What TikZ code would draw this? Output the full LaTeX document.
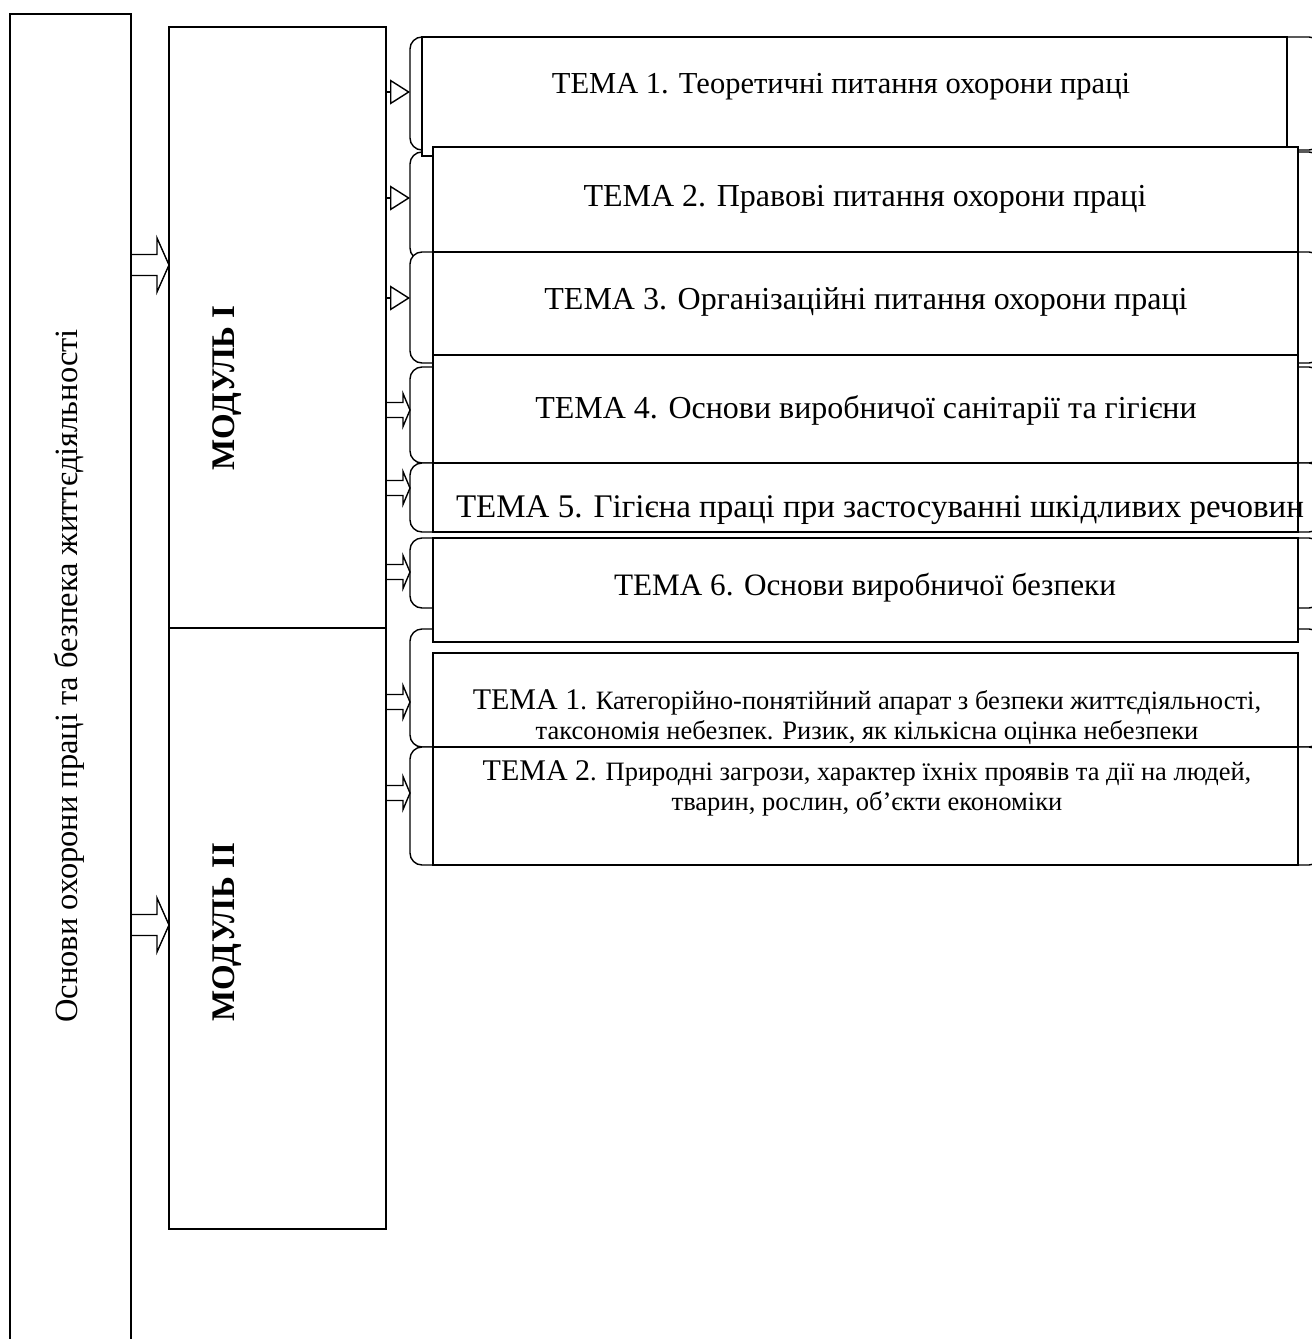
\documentclass[tikz,border=0pt]{standalone}
\usepackage{fontspec}
\setmainfont{Liberation Serif}
\usetikzlibrary{arrows.meta,calc}
\newcommand\BlockArr[3]{%
  \coordinate (ba) at (0,#3);
  \draw[ln] ($(#1.east|-ba)+(0,-10.5)$) -- ($(#2.west|-ba)+(-12,-10.5)$) -- ($(#2.west|-ba)+(-12,-27)$) -- (#2.west|-ba) -- ($(#2.west|-ba)+(-12,27)$) -- ($(#2.west|-ba)+(-12,10.5)$) -- ($(#1.east|-ba)+(0,10.5)$);}
\newcommand\DblArr[3]{%
  \coordinate (da) at (0,#3);
  \draw[ln] ($(#1.east|-da)+(0,-7.5)$) -- ($(#2.west|-da)+(-7,-7.5)$) -- ($(#2.west|-da)+(-7,-16.5)$) -- (#2.west|-da) -- ($(#2.west|-da)+(-7,16.5)$) -- ($(#2.west|-da)+(-7,7.5)$) -- ($(#1.east|-da)+(0,7.5)$);}
\newcommand\TriArr[3]{%
  \coordinate (ta) at (0,#3);
  \draw[ln,-{Triangle[open,length=20pt,width=25pt]}] (#1.east|-ta) -- (#2.west|-ta);}
\begin{document}
\begin{tikzpicture}[x=1pt,y=-1pt,
  every node/.style={inner sep=0pt,outer sep=0pt},
  ln/.style={line width=1.4pt},
  bigbox/.style={ln,draw,anchor=north west},
  rbox/.style={ln,draw,fill=white,rounded corners=12pt,anchor=north west,minimum width=911pt},
  sbox/.style={ln,draw,fill=white,anchor=north west,minimum width=865pt},
  tema/.style={font=\fontsize{#1}{36}\selectfont},
  small/.style={align=center,font=\fontsize{26.5}{30}\selectfont}]
\useasboundingbox (0,0) rectangle (1312,1339);
\clip (0,0) rectangle (1312,1339);
% main column and modules
\node[bigbox,minimum width=121pt,minimum height=1400pt] (main) at (10,14) {};
\node[bigbox,minimum width=217pt,minimum height=601pt] (m1) at (169,27) {};
\node[bigbox,minimum width=217pt,minimum height=601pt] (m2) at (169,628) {};
\node[rotate=90,font=\fontsize{32.5}{36}\selectfont] (maintxt) at (69,676) {Основи охорони праці та безпека життєдіяльності};
\node[rotate=90,font=\bfseries\fontsize{33}{36}\selectfont] (m1txt) at (227,388) {МОДУЛЬ I};
\node[rotate=90,font=\bfseries\fontsize{33}{36}\selectfont] (m2txt) at (227,932) {МОДУЛЬ II};
% rounded backing boxes
\node[rbox,minimum height=113pt] (r1) at (410,37) {};
\node[rbox,minimum height=108pt] (r2) at (410,152) {};
\node[rbox,minimum height=111pt] (r3) at (410,252) {};
\node[rbox,minimum height=96pt] (r4) at (410,367) {};
\node[rbox,minimum height=69pt] (r5) at (410,463) {};
\node[rbox,minimum height=70pt] (r6) at (410,538) {};
\node[rbox,minimum height=118pt] (r7) at (410,629) {};
\node[rbox,minimum height=118pt] (r8) at (410,747) {};
% theme boxes
\node[sbox,minimum height=119pt] (s1) at (422,37) {};
\node[sbox,minimum height=105pt] (s2) at (433,147) {};
\node[sbox,minimum height=103pt] (s3) at (433,252) {};
\node[sbox,minimum height=108pt] (s4) at (433,355) {};
\node[sbox,minimum height=69pt] (s5) at (433,463) {};
\node[sbox,minimum height=104pt] (s6) at (433,538) {};
\node[sbox,minimum height=94pt] (s7) at (433,653) {};
\node[sbox,minimum height=118pt] (s8) at (433,747) {};
% texts
\node[tema=30.5] (t1) at (841,87) {ТЕМА 1. Теоретичні питання охорони праці};
\node[tema=32] (t2) at (865,199) {ТЕМА 2. Правові питання охорони праці};
\node[tema=32] (t3) at (866,302) {ТЕМА 3. Організаційні питання охорони праці};
\node[tema=32] (t4) at (866,410) {ТЕМА 4. Основи виробничої санітарії та гігієни};
\node[tema=33] (t5) at (880,510) {ТЕМА 5. Гігієна праці при застосуванні шкідливих речовин};
\node[tema=31.2] (t6) at (865,588) {ТЕМА 6. Основи виробничої безпеки};
\node[small] (t7) at (867,717) {{\fontsize{30}{30}\selectfont ТЕМА 1}. Категорійно-понятійний апарат з безпеки життєдіяльності,\\таксономія небезпек. Ризик, як кількісна оцінка небезпеки};
\node[small] (t8) at (867,788) {{\fontsize{30}{30}\selectfont ТЕМА 2}. Природні загрози, характер їхніх проявів та дії на людей,\\тварин, рослин, об’єкти економіки};
% connectors
\BlockArr{main}{m1}{265}
\BlockArr{main}{m2}{925}
\TriArr{m1}{r1}{92}
\TriArr{m1}{r2}{198}
\TriArr{m1}{r3}{298}
\DblArr{m1}{r4}{410}
\DblArr{m1}{r5}{488}
\DblArr{m1}{r6}{572}
\DblArr{m2}{r7}{702}
\DblArr{m2}{r8}{793}
\end{tikzpicture}
\end{document}
